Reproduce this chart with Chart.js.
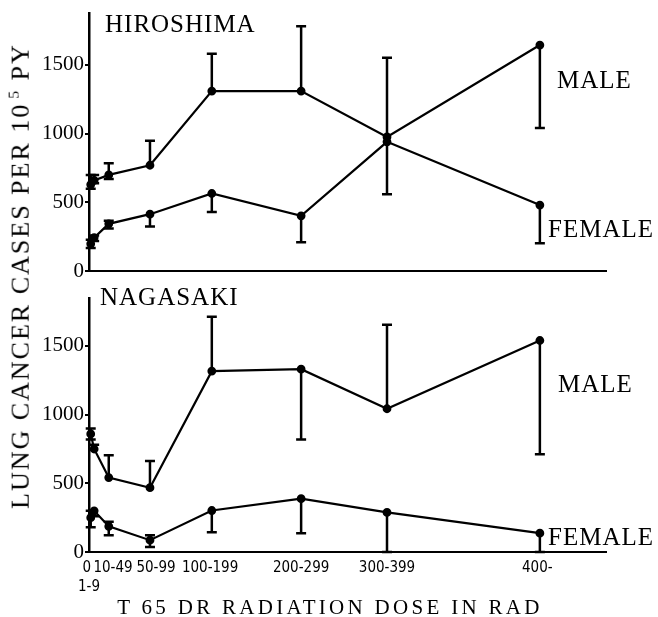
<!DOCTYPE html>
<html>
<head>
<meta charset="utf-8">
<script src="https://cdn.jsdelivr.net/npm/chart.js@4.4.0/dist/chart.umd.min.js"></script>
<style>
  body { margin: 0; background: #fff; width: 658px; height: 617px; position: relative; overflow: hidden; }
  canvas { position: absolute; left: 0; }
  #hiroshima { top: 0; }
  #nagasaki { top: 285px; }
  #ytitle {
    position: absolute; left: 20px; top: 276px;
    font-family: 'Liberation Serif', serif; font-size: 26px; letter-spacing: 2px;
    white-space: nowrap; color: #000;
    transform: translate(-50%, -50%) rotate(-90deg);
  }
  #ytitle sup { font-size: 60%; margin-left: 4px; }
  #xtitle {
    position: absolute; left: 330px; top: 607px;
    font-family: 'Liberation Serif', serif; font-size: 21px; letter-spacing: 3.3px;
    white-space: nowrap; color: #000;
    transform: translate(-50%, -50%);
  }
</style>
</head>
<body>
<canvas id="hiroshima" width="658" height="285"></canvas>
<canvas id="nagasaki" width="658" height="332"></canvas>
<div id="ytitle">LUNG CANCER CASES PER 10<sup>5</sup> PY</div>
<div id="xtitle">T 65 DR RADIATION DOSE IN RAD</div>
<script>
// dose groups and where they sit on the dose axis (rad)
const doseLabels = ['0', '1-9', '10-49', '50-99', '100-199', '200-299', '300-399', '400-'];
const doseX = [0, 4, 21, 69, 141, 245, 345, 523];
// where the dose labels are written under the axis (same units); first one carries "0" and "1-9"
const doseTickX = [-2, 26, 76, 139, 245, 345, 520];
const doseTickText = [['0 ', '1-9'], '10-49', '50-99', '100-199', '200-299', '300-399', '400-'];
const yTicks = [0, 500, 1000, 1500];

// Hiroshima, cases per 10^5 PY
const hiroMale = [630, 660, 700, 770, 1308, 1308, 975, 1642];
const hiroMaleLow = [600, 640, 670, 770, 1308, 1308, 975, 1040];
const hiroMaleHigh = [700, 700, 785, 947, 1578, 1778, 1550, 1642];
const hiroFemale = [200, 245, 345, 415, 565, 403, 940, 481];
const hiroFemaleLow = [170, 220, 311, 325, 430, 212, 559, 205];
const hiroFemaleHigh = [230, 260, 368, 415, 565, 403, 940, 481];

// Nagasaki
const nagaMale = [860, 750, 542, 468, 1317, 1331, 1043, 1540];
const nagaMaleLow = [820, 750, 542, 468, 1317, 820, 1043, 712];
const nagaMaleHigh = [900, 780, 705, 662, 1712, 1331, 1655, 1540];
const nagaFemale = [250, 300, 187, 86, 302, 388, 288, 137];
const nagaFemaleLow = [180, 260, 122, 36, 144, 137, 0, 0];
const nagaFemaleHigh = [300, 300, 220, 122, 302, 388, 288, 137];

function points(vals) {
    return vals.map(function (v, i) { return { x: doseX[i], y: v }; });
}

function series(vals, lo, hi) {
    return {
        data: points(vals),
        errLow: lo,
        errHigh: hi,
        borderColor: '#000',
        backgroundColor: '#000',
        borderWidth: 2.2,
        pointRadius: 3.3,
        pointHoverRadius: 3.3,
        tension: 0,
        clip: false
    };
}

// vertical error bars with a cap at each far end
const errorBars = {
    id: 'errorBars',
    afterDatasetsDraw(chart) {
        const ctx = chart.ctx, xs = chart.scales.x, ys = chart.scales.y;
        ctx.save();
        ctx.strokeStyle = '#000';
        ctx.lineWidth = 2.5;
        chart.data.datasets.forEach(function (ds) {
            ds.data.forEach(function (p, i) {
                const lo = ds.errLow[i], hi = ds.errHigh[i];
                if (lo === hi) return;
                const px = xs.getPixelForValue(p.x);
                const pLo = ys.getPixelForValue(lo), pHi = ys.getPixelForValue(hi);
                ctx.beginPath();
                ctx.moveTo(px, pLo);
                ctx.lineTo(px, pHi);
                if (lo < p.y) { ctx.moveTo(px - 5, pLo); ctx.lineTo(px + 5, pLo); }
                if (hi > p.y) { ctx.moveTo(px - 5, pHi); ctx.lineTo(px + 5, pHi); }
                ctx.stroke();
            });
        });
        ctx.restore();
    }
};

const panelText = {
    id: 'panelText',
    afterDraw(chart, args, opts) {
        const ctx = chart.ctx;
        ctx.save();
        ctx.fillStyle = '#000';
        ctx.font = '25px "Liberation Serif", serif';
        ctx.textBaseline = 'alphabetic';
        ctx.letterSpacing = '1px';
        opts.items.forEach(function (t) { ctx.fillText(t.text, t.x, t.y); });
        ctx.restore();
    }
};

function makeChart(id, datasets, opts) {
    return new Chart(document.getElementById(id), {
        type: 'line',
        data: { datasets: datasets },
        plugins: [errorBars, panelText],
        options: {
            responsive: false,
            animation: false,
            devicePixelRatio: 1,
            layout: { padding: { left: 0, right: 52, top: opts.top, bottom: 0 } },
            scales: {
                x: {
                    type: 'linear',
                    min: -2,
                    max: 600,
                    afterFit: function (s) { s.height = opts.xHeight; },
                    afterBuildTicks: function (s) {
                        s.ticks = doseTickX.map(function (v) { return { value: v }; });
                    },
                    border: { display: true, color: '#000', width: 2 },
                    grid: { display: false },
                    ticks: {
                        display: opts.showTicks,
                        autoSkip: false,
                        maxRotation: 0,
                        padding: -2,
                        color: '#000',
                        font: { family: '"DejaVu Sans Condensed", "DejaVu Sans", sans-serif', size: 15, lineHeight: 1.3 },
                        callback: function (v) {
                            return doseTickText[doseTickX.indexOf(v)];
                        }
                    }
                },
                y: {
                    min: 0,
                    max: opts.yMax,
                    afterFit: function (s) { s.width = 89; },
                    afterBuildTicks: function (s) {
                        s.ticks = yTicks.map(function (v) { return { value: v }; });
                    },
                    border: { display: true, color: '#000', width: 2.5 },
                    grid: { drawOnChartArea: false, drawTicks: true, tickLength: 4, color: '#000', lineWidth: 2 },
                    ticks: {
                        padding: 1,
                        color: '#000',
                        font: { family: '"Liberation Serif", serif', size: 21 },
                        callback: function (v) { return String(v); }
                    }
                }
            },
            plugins: {
                legend: { display: false },
                tooltip: { enabled: false },
                panelText: { items: opts.text }
            }
        }
    });
}

makeChart('hiroshima', [
    series(hiroMale, hiroMaleLow, hiroMaleHigh),
    series(hiroFemale, hiroFemaleLow, hiroFemaleHigh)
], {
    top: 8, xHeight: 13, yMax: 1870, showTicks: false,
    text: [
        { text: 'HIROSHIMA', x: 105, y: 32 },
        { text: 'MALE', x: 557, y: 88 },
        { text: 'FEMALE', x: 548, y: 237 }
    ]
});

makeChart('nagasaki', [
    series(nagaMale, nagaMaleLow, nagaMaleHigh),
    series(nagaFemale, nagaFemaleLow, nagaFemaleHigh)
], {
    top: 10, xHeight: 65, yMax: 1845, showTicks: true,
    text: [
        { text: 'NAGASAKI', x: 100, y: 20 },
        { text: 'MALE', x: 558, y: 107 },
        { text: 'FEMALE', x: 548, y: 260 }
    ]
});
</script>
</body>
</html>
